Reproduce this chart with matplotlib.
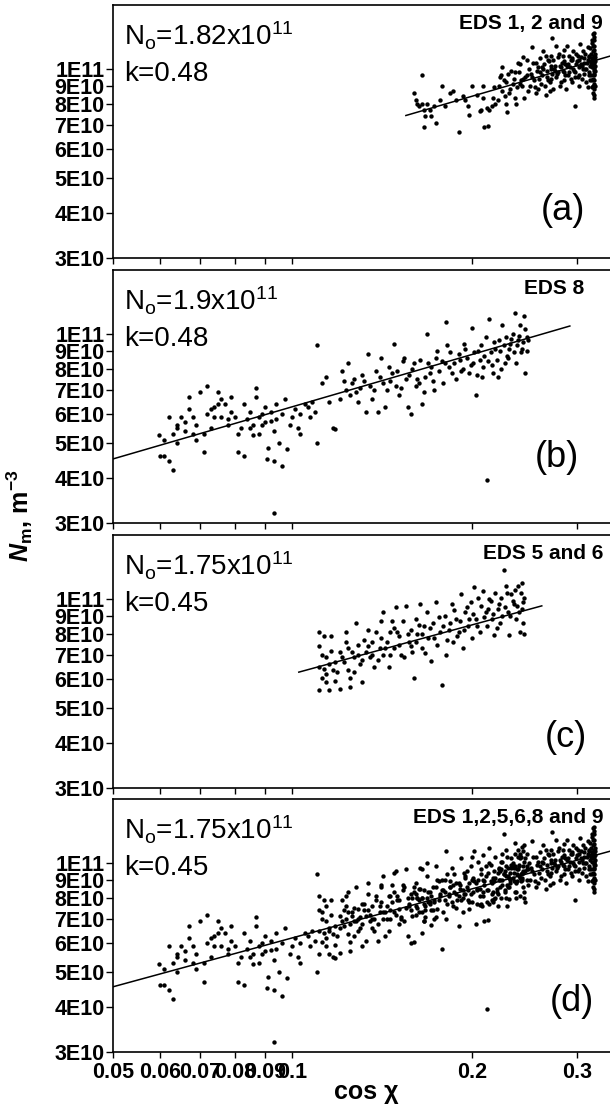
import matplotlib
matplotlib.use('Agg')
import matplotlib.pyplot as plt
from matplotlib.ticker import FixedLocator, FixedFormatter, NullLocator
import numpy as np

plt.rcParams['font.family'] = ['Liberation Sans', 'DejaVu Sans']
plt.rcParams['mathtext.fontset'] = 'custom'
plt.rcParams['mathtext.rm'] = 'Liberation Sans'
plt.rcParams['mathtext.it'] = 'Liberation Sans:italic:bold'
plt.rcParams['mathtext.bf'] = 'Liberation Sans:bold'

# ---------------- data (cos chi, Nm in units of 1e10 m^-3) ----------------
# EDS 1, 2 and 9
a_x = [0.160, 0.161, 0.162, 0.163, 0.165, 0.165, 0.166, 0.167, 0.166, 0.168,
       0.170, 0.171, 0.173, 0.174, 0.177, 0.178, 0.180, 0.184, 0.186, 0.188,
       0.190, 0.193, 0.195, 0.197, 0.198, 0.200, 0.204, 0.206, 0.207, 0.209,
       0.209, 0.210, 0.212, 0.213, 0.214, 0.216, 0.217, 0.219, 0.221, 0.218,
       0.222, 0.223, 0.224, 0.225, 0.225, 0.226, 0.227, 0.228, 0.228, 0.229,
       0.230, 0.231, 0.232, 0.233, 0.234, 0.235, 0.236, 0.237, 0.238, 0.239,
       0.240, 0.241, 0.242, 0.243, 0.244, 0.245, 0.246, 0.247, 0.248, 0.249,
       0.250, 0.251, 0.252, 0.253, 0.254, 0.255, 0.256, 0.257, 0.258, 0.259,
       0.260, 0.261, 0.262, 0.263, 0.264, 0.265, 0.266, 0.267, 0.268, 0.269,
       0.270, 0.271, 0.272, 0.273, 0.273, 0.274, 0.275, 0.276, 0.277, 0.278,
       0.279, 0.280, 0.281, 0.282, 0.283, 0.284, 0.285, 0.286, 0.287, 0.288,
       0.289, 0.290, 0.291, 0.292, 0.293, 0.294, 0.295, 0.296, 0.297, 0.298,
       0.298, 0.299, 0.300, 0.301, 0.302, 0.303, 0.304, 0.305, 0.306, 0.307,
       0.308, 0.309, 0.310, 0.311, 0.312, 0.313, 0.314, 0.315, 0.316, 0.316,
       0.319, 0.320, 0.321, 0.319, 0.320, 0.321, 0.319, 0.320, 0.321, 0.319,
       0.320, 0.321, 0.320, 0.321, 0.318, 0.318, 0.322, 0.322, 0.322, 0.317,
       0.317, 0.318, 0.321, 0.320, 0.319, 0.241, 0.247, 0.252, 0.256, 0.260,
       0.263, 0.266, 0.268, 0.271, 0.274, 0.277, 0.279, 0.282, 0.284, 0.287,
       0.289, 0.291, 0.293, 0.296, 0.299, 0.301, 0.303, 0.305, 0.307, 0.309,
       0.311, 0.313, 0.314, 0.316, 0.317, 0.318, 0.319, 0.320, 0.321, 0.322,
       0.318, 0.320, 0.321, 0.319, 0.322, 0.236, 0.244, 0.258, 0.270, 0.286,
       0.262, 0.267, 0.272, 0.276, 0.281, 0.285, 0.290, 0.294, 0.298, 0.302,
       0.306, 0.310, 0.313, 0.315, 0.317, 0.318, 0.320, 0.321, 0.322, 0.319]
a_y = [8.6, 8.2, 8.0, 7.9, 9.6, 8.0, 7.7, 7.4, 6.9, 8.0,
       7.7, 7.4, 7.9, 7.1, 8.2, 9.0, 7.9, 8.6, 8.7, 8.2,
       6.7, 8.4, 8.2, 7.9, 7.45, 9.0, 8.5, 7.65, 7.7, 8.3,
       9.0, 6.9, 7.8, 6.95, 7.7, 7.9, 8.3, 8.0, 8.2, 8.9,
       9.0, 9.5, 9.6, 10.1, 8.7, 9.3, 8.4, 9.2, 8.0, 7.6,
       9.7, 8.6, 8.8, 9.9, 9.1, 9.4, 8.3, 8.0, 8.9, 10.4,
       9.8, 10.3, 9.3, 9.0, 10.8, 8.3, 9.5, 9.6, 8.7, 10.0,
       9.0, 9.7, 11.5, 10.4, 9.3, 8.9, 8.6, 9.9, 10.1, 9.4,
       10.7, 9.1, 9.6, 11.2, 10.3, 9.0, 8.5, 9.9, 10.6, 10.5,
       9.2, 9.4, 10.9, 12.2, 9.7, 8.8, 10.0, 10.2, 9.5, 9.7,
       10.8, 11.0, 9.0, 9.2, 10.4, 9.9, 11.3, 10.5, 9.6, 8.8,
       10.2, 9.6, 10.9, 10.1, 9.4, 9.2, 10.6, 11.2, 9.9, 7.9,
       9.8, 10.3, 10.5, 9.5, 9.0, 10.1, 11.7, 10.8, 9.4, 10.0,
       10.7, 9.7, 11.0, 9.2, 10.4, 8.9, 10.9, 9.8, 11.4, 9.3,
       12.5, 12.0, 11.6, 11.2, 10.9, 10.6, 10.3, 10.0, 9.7, 9.4,
       9.1, 8.8, 8.5, 8.3, 11.8, 10.1, 10.2, 9.9, 11.0, 10.5,
       9.6, 8.9, 12.3, 11.3, 9.0, 9.1, 10.6, 9.5, 10.4, 9.8,
       10.0, 10.9, 9.3, 10.2, 10.6, 11.6, 9.8, 10.1, 10.9, 10.3,
       11.6, 9.8, 10.6, 10.0, 11.0, 10.9, 9.6, 10.3, 11.2, 10.4,
       10.0, 11.5, 9.6, 10.2, 11.0, 9.3, 10.7, 9.6, 10.1, 10.5,
       12.0, 12.6, 9.3, 8.6, 9.0, 9.8, 9.4, 8.8, 8.7, 9.3,
       10.1, 9.5, 10.0, 9.9, 10.2, 9.8, 10.3, 10.7, 9.5, 10.6,
       10.2, 10.0, 10.6, 10.8, 10.4, 10.7, 10.4, 9.9, 10.8, 11.6]

# EDS 8
b_x = [0.0598, 0.060, 0.061, 0.062, 0.063, 0.061, 0.062, 0.063, 0.064, 0.064,
       0.065, 0.066, 0.067, 0.067, 0.068, 0.068, 0.069, 0.070, 0.071, 0.072,
       0.073, 0.072, 0.074, 0.074, 0.075, 0.075, 0.076, 0.077, 0.078, 0.079,
       0.079, 0.081, 0.081, 0.083, 0.083, 0.085, 0.085, 0.086, 0.087, 0.087,
       0.088, 0.089, 0.089, 0.090, 0.0905, 0.091, 0.092, 0.093, 0.093, 0.094,
       0.095, 0.096, 0.093, 0.097, 0.098, 0.100, 0.101, 0.102, 0.103, 0.105,
       0.107, 0.108, 0.110, 0.110, 0.112, 0.114, 0.115, 0.117, 0.118, 0.121,
       0.122, 0.124, 0.125, 0.127, 0.129, 0.131, 0.133, 0.134, 0.137, 0.138,
       0.139, 0.141, 0.142, 0.143, 0.147, 0.148, 0.149, 0.151, 0.154, 0.155,
       0.156, 0.158, 0.160, 0.161, 0.163, 0.165, 0.168, 0.169, 0.170, 0.173,
       0.175, 0.180, 0.181, 0.182, 0.185, 0.190, 0.192, 0.195, 0.198, 0.200,
       0.201, 0.203, 0.205, 0.208, 0.211, 0.212, 0.213, 0.214, 0.217, 0.219,
       0.222, 0.225, 0.227, 0.229, 0.232, 0.234, 0.236, 0.237, 0.239, 0.241,
       0.243, 0.245, 0.246, 0.247, 0.064, 0.066, 0.069, 0.071, 0.073, 0.076,
       0.078, 0.080, 0.082, 0.084, 0.086, 0.088, 0.090, 0.092, 0.094, 0.096,
       0.099, 0.103, 0.106, 0.109, 0.120, 0.123, 0.126, 0.128, 0.130, 0.132,
       0.135, 0.136, 0.140, 0.144, 0.145, 0.146, 0.150, 0.152, 0.153, 0.157,
       0.159, 0.162, 0.164, 0.166, 0.167, 0.171, 0.172, 0.174, 0.176, 0.178,
       0.179, 0.183, 0.184, 0.187, 0.188, 0.191, 0.193, 0.194, 0.196, 0.199,
       0.202, 0.204, 0.206, 0.207, 0.209, 0.210, 0.215, 0.216, 0.218, 0.220,
       0.221, 0.223, 0.224, 0.226, 0.228, 0.230, 0.231, 0.233, 0.235, 0.238,
       0.240, 0.242, 0.244, 0.246, 0.247, 0.248]
b_y = [5.25, 4.6, 4.6, 4.45, 4.2, 5.1, 5.9, 5.3, 5.5, 5.6,
       5.9, 5.4, 6.2, 6.7, 5.9, 5.3, 5.1, 6.9, 4.7, 6.0,
       5.5, 7.2, 6.3, 5.9, 6.9, 6.4, 5.9, 6.4, 5.8, 6.7,
       6.1, 5.3, 4.7, 4.6, 6.4, 5.5, 6.1, 5.25, 6.7, 7.1,
       5.3, 5.6, 6.0, 6.3, 4.5, 4.85, 5.75, 5.4, 4.45, 6.4,
       5.0, 4.3, 3.2, 6.6, 4.8, 5.9, 6.2, 5.5, 5.3, 6.4,
       5.9, 6.5, 5.0, 9.3, 7.3, 7.6, 6.5, 5.5, 5.45, 7.9,
       7.4, 8.3, 6.8, 7.5, 6.5, 7.7, 6.1, 8.8, 7.0, 7.9,
       6.1, 8.6, 7.3, 6.3, 7.8, 9.4, 7.2, 6.8, 8.6, 7.5,
       6.3, 6.0, 8.3, 7.2, 7.3, 6.4, 10.0, 8.3, 7.8, 7.0,
       9.0, 8.3, 10.8, 9.3, 7.8, 8.8, 7.9, 9.1, 7.8, 10.4,
       8.3, 6.8, 9.0, 7.6, 9.8, 3.95, 8.4, 11.0, 7.8, 9.1,
       9.6, 10.6, 8.3, 8.7, 9.4, 10.0, 11.4, 8.3, 9.6, 10.6,
       9.1, 11.2, 7.8, 9.8, 5.0, 5.7, 5.6, 5.3, 6.2, 6.6,
       5.6, 5.9, 5.5, 5.8, 5.6, 5.9, 5.7, 6.1, 5.8, 6.0,
       5.6, 6.0, 6.3, 6.1, 6.6, 7.0, 7.3, 6.9, 7.1, 7.4,
       7.2, 6.6, 7.6, 7.0, 8.1, 7.4, 7.9, 7.1, 8.4, 7.7,
       8.0, 7.5, 8.5, 6.9, 7.6, 8.1, 7.4, 8.6, 7.9, 8.4,
       7.3, 8.1, 8.9, 8.3, 7.5, 8.5, 8.0, 9.4, 8.6, 8.2,
       8.9, 7.7, 8.5, 9.3, 8.1, 8.7, 8.9, 8.2, 9.5, 8.5,
       7.6, 9.0, 8.0, 9.3, 9.8, 8.6, 9.1, 9.7, 8.9, 9.3,
       9.9, 8.9, 9.5, 10.3, 9.0, 9.6]

# EDS 5 and 6
c_x = [0.111, 0.115, 0.120, 0.125, 0.111, 0.113, 0.116, 0.111, 0.112, 0.114,
       0.111, 0.112, 0.114, 0.115, 0.117, 0.114, 0.118, 0.118, 0.120, 0.122,
       0.123, 0.123, 0.124, 0.125, 0.126, 0.127, 0.128, 0.129, 0.130, 0.131,
       0.132, 0.133, 0.134, 0.135, 0.136, 0.137, 0.138, 0.140, 0.141, 0.142,
       0.142, 0.144, 0.145, 0.146, 0.147, 0.148, 0.149, 0.150, 0.151, 0.153,
       0.154, 0.155, 0.157, 0.158, 0.159, 0.160, 0.161, 0.162, 0.164, 0.165,
       0.166, 0.168, 0.169, 0.171, 0.172, 0.174, 0.175, 0.177, 0.178, 0.180,
       0.181, 0.183, 0.185, 0.186, 0.188, 0.190, 0.192, 0.193, 0.195, 0.197,
       0.199, 0.200, 0.202, 0.203, 0.205, 0.206, 0.209, 0.211, 0.212, 0.214,
       0.216, 0.218, 0.219, 0.221, 0.223, 0.224, 0.226, 0.228, 0.230, 0.231,
       0.233, 0.235, 0.237, 0.239, 0.241, 0.243, 0.244, 0.245, 0.113, 0.116,
       0.119, 0.121, 0.124, 0.127, 0.129, 0.131, 0.134, 0.136, 0.139, 0.141,
       0.143, 0.146, 0.148, 0.151, 0.152, 0.156, 0.158, 0.161, 0.163, 0.165,
       0.167, 0.170, 0.173, 0.176, 0.179, 0.182, 0.184, 0.187, 0.189, 0.191,
       0.194, 0.196, 0.198, 0.201, 0.204, 0.207, 0.210, 0.213, 0.215, 0.217,
       0.220, 0.222, 0.225, 0.227, 0.229, 0.232, 0.234, 0.236, 0.238, 0.240,
       0.242, 0.244, 0.245, 0.243]
c_y = [5.6, 5.6, 5.65, 5.7, 8.1, 7.9, 7.9, 7.4, 7.0, 6.9,
       6.5, 6.05, 6.2, 6.6, 6.35, 5.9, 5.95, 6.7, 7.15, 6.7,
       7.6, 8.1, 6.35, 6.05, 7.15, 6.9, 8.6, 7.45, 6.6, 5.9,
       7.7, 7.15, 8.2, 6.9, 7.6, 6.5, 8.1, 7.3, 8.7, 7.0,
       9.2, 7.6, 6.5, 8.1, 8.7, 7.3, 9.5, 8.1, 7.45, 8.7,
       6.9, 9.6, 7.6, 8.2, 7.15, 6.05, 8.8, 8.0, 9.7, 7.3,
       8.4, 9.2, 7.8, 6.75, 8.6, 9.8, 7.45, 8.1, 5.8, 9.0,
       7.0, 8.2, 9.7, 7.6, 8.8, 8.1, 10.3, 7.3, 9.2, 8.4,
       9.8, 7.8, 10.8, 8.8, 10.1, 8.1, 10.5, 9.2, 8.4, 10.0,
       8.8, 7.95, 10.4, 9.4, 8.6, 10.1, 12.0, 10.9, 9.2, 7.95,
       10.3, 9.7, 8.8, 10.9, 8.1, 9.4, 8.6, 10.1, 6.4, 7.2,
       6.3, 6.9, 7.3, 6.3, 7.0, 6.8, 7.4, 7.0, 6.8, 7.8,
       7.3, 7.0, 8.3, 7.9, 7.0, 8.0, 7.4, 7.6, 8.5, 8.0,
       7.1, 8.3, 7.8, 8.9, 8.4, 7.7, 8.6, 9.3, 7.9, 8.7,
       8.2, 9.5, 8.8, 9.1, 8.4, 9.6, 8.9, 9.4, 9.9, 9.1,
       8.3, 9.7, 9.0, 9.5, 10.4, 9.0, 9.9, 10.6, 9.6, 9.2,
       10.4, 9.8, 8.0, 11.1]

# EDS 1,2,5,6,8 and 9 : all sets together
d_x = a_x + b_x + c_x
d_y = a_y + b_y + c_y

panel_x = [a_x, b_x, c_x, d_x]
panel_y = [a_y, b_y, c_y, d_y]
fit_N0 = [1.82e11, 1.9e11, 1.75e11, 1.75e11]
fit_k = [0.48, 0.48, 0.45, 0.45]
fit_N0_text = ['1.82', '1.9', '1.75', '1.75']
fit_k_text = ['0.48', '0.48', '0.45', '0.45']
fit_start = [0.155, 0.05, 0.1025, 0.05]
fit_end = [0.345, 0.292, 0.262, 0.345]
eds_labels = ['EDS 1, 2 and 9', 'EDS 8', 'EDS 5 and 6', 'EDS 1,2,5,6,8 and 9']
panel_tags = ['(a)', '(b)', '(c)', '(d)']

y_ticks = [3e10, 4e10, 5e10, 6e10, 7e10, 8e10, 9e10, 1e11]
y_ticklabels = ['3E10', '4E10', '5E10', '6E10', '7E10', '8E10', '9E10', '1E11']
x_ticks = [0.05, 0.06, 0.07, 0.08, 0.09, 0.1, 0.2, 0.3]
x_ticklabels = ['0.05', '0.06', '0.07', '0.08', '0.09', '0.1', '0.2', '0.3']

# ---------------- layout ----------------
fig = plt.figure(figsize=(6.10, 11.11), dpi=100)
bottoms = [0.7678, 0.5293, 0.2907, 0.0531]
eds_x = [0.986, 0.948, 0.986, 0.986]
tag_pos = [(0.905, 0.186), (0.893, 0.26), (0.912, 0.20), (0.924, 0.198)]

for i in range(4):
    ax = fig.add_axes([0.1852, bottoms[i], 0.8148, 0.2277])
    ax.set_xscale('log')
    ax.set_yscale('log')
    ax.set_xlim(0.05, 0.341)
    ax.set_ylim(3e10, 1.504e11)

    xs = np.array(panel_x[i])
    ys = np.array(panel_y[i]) * 1e10
    ax.scatter(xs, ys, s=10, c='black', linewidths=0, zorder=2)

    fx = np.geomspace(fit_start[i], fit_end[i], 200)
    ax.plot(fx, fit_N0[i] * fx ** fit_k[i], color='black', lw=1.1, zorder=3)

    ax.yaxis.set_major_locator(FixedLocator(y_ticks))
    ax.yaxis.set_major_formatter(FixedFormatter(y_ticklabels))
    ax.yaxis.set_minor_locator(NullLocator())
    ax.xaxis.set_major_locator(FixedLocator(x_ticks))
    ax.xaxis.set_minor_locator(NullLocator())
    if i == 3:
        ax.xaxis.set_major_formatter(FixedFormatter(x_ticklabels))
    else:
        ax.xaxis.set_major_formatter(FixedFormatter([''] * len(x_ticks)))

    ax.tick_params(axis='y', which='both', direction='out', length=5, width=1.0,
                   pad=1, labelsize=15.5, right=False)
    ax.tick_params(axis='x', which='both', direction='out', length=4, width=1.0,
                   pad=3, labelsize=15.5, top=False)
    for lab in ax.get_yticklabels() + ax.get_xticklabels():
        lab.set_fontweight('bold')

    for s in ['left', 'bottom', 'top']:
        ax.spines[s].set_linewidth(1.2)
    ax.spines['right'].set_visible(False)

    ax.text(0.022, 0.84,
            'N$_\\mathregular{o}$=' + fit_N0_text[i] + 'x10$^\\mathregular{11}$',
            transform=ax.transAxes, fontsize=20, ha='left', va='baseline')
    ax.text(0.022, 0.70, 'k=' + fit_k_text[i],
            transform=ax.transAxes, fontsize=20, ha='left', va='baseline')
    ax.text(eds_x[i], 0.905, eds_labels[i], transform=ax.transAxes,
            fontsize=15, fontweight='bold', ha='right', va='baseline')
    ax.text(tag_pos[i][0], tag_pos[i][1], panel_tags[i], transform=ax.transAxes,
            fontsize=26, ha='center', va='center')

fig.text(0.033, 0.536, r'$\mathit{N}_{\mathbf{m}}\mathbf{,}\ \mathbf{m}^{\mathbf{-3}}$',
         rotation=90, fontsize=18, ha='center', va='center')
fig.text(0.60, 0.017, 'cos χ', fontsize=18, fontweight='bold',
         ha='center', va='center')

fig.savefig('out.png', dpi=100)
